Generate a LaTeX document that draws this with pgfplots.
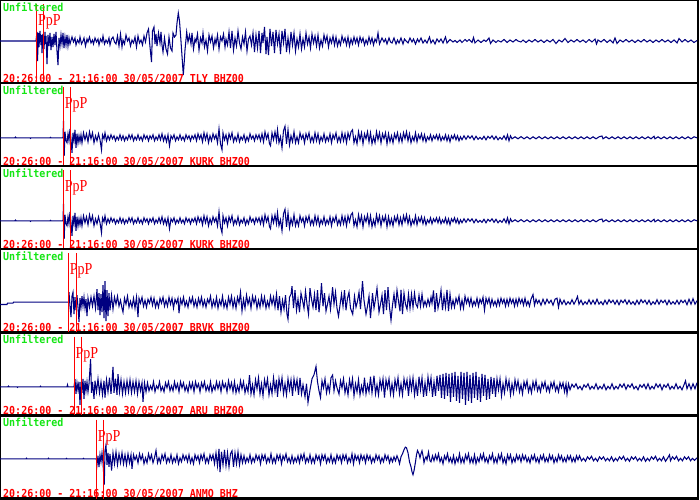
\documentclass[border=0pt]{standalone}
\usepackage{fontspec}
\usepackage{pgfplots}
\usepackage{pgfplotstable}
\pgfplotsset{compat=1.18}
\newfontfamily\monofam{DejaVu Sans Mono}
\newfontfamily\seriffam{Liberation Serif}
\newcommand\mono{\fontsize{10bp}{12bp}\selectfont\monofam\bfseries}
\newcommand\pfont{\fontsize{14bp}{16bp}\selectfont\seriffam}
\definecolor{tr}{RGB}{0,0,128}
\definecolor{ugreen}{RGB}{20,230,20}
\definecolor{pred}{RGB}{255,0,0}
\pgfplotsset{seis/.style={anchor=south west, scale only axis, width=698bp, height=83bp,
  xmin=0, xmax=698, ticks=none, axis line style={line width=2bp, black}, clip mode=individual}}

\pgfplotstableread[row sep=\\]{x y\\
0 0\\ 36 0\\ 37 9\\ 37.5 -20\\ 38.5 8\\ 39 -6\\ 40 10\\ 41 -4\\ 41.5 6\\ 42 -12\\ 43 7\\ 44 -8\\ 45 9\\ 45.5 -3\\ 46 5\\ 47 -23\\ 48 6\\ 49 -5\\ 50 8\\ 51 -9\\ 52 4\\ 53 -6\\ 54 7\\ 55 -4\\ 56 9\\ 57 -10\\ 58 -24\\ 59 3\\ 60 -5\\ 61 6\\ 62 -3\\ 63 8\\ 64 -7\\ 65 4\\ 66 -4\\ 67 6\\ 68 -5\\ 69 3\\ 70 -3\\
72 4\\ 73.5 -1\\ 75 3\\ 76 -4\\ 77.5 1\\ 79 -2\\ 80 4\\ 81.5 -3\\ 83 0\\ 84 3\\ 85.5 -5\\ 87 2\\ 88 -1\\ 89.5 4\\ 91 -2\\ 92.5 1\\ 93.5 -3\\ 95 3\\ 96.5 -1\\ 98 2\\ 99 -4\\ 100.5 2\\ 102 -1\\ 103 5\\ 104.5 -3\\ 106 1\\ 107.5 -2\\ 109 3\\ 110 -4\\ 111.5 2\\ 113 4\\ 114.5 -1\\ 116 -3\\ 117.5 5\\ 119 -5\\ 120.5 7\\ 122 -6\\ 123 1\\ 124.5 -3\\ 126 6\\ 127.5 0\\ 129 3\\ 130.5 -5\\ 132 1\\ 133.5 -2\\ 135 4\\ 136.5 -6\\ 138 5\\ 139.5 -2\\ 141 1\\ 142.5 -4\\ 144 5\\ 145.5 -1\\ 147 8\\
148.5 12\\ 150 -6\\ 151.5 -21\\ 152.5 10\\ 154 14\\ 155 -3\\ 156 7\\ 157 -5\\ 158.5 8\\ 160 -2\\ 161 9\\ 162 -4\\ 163 -11\\ 164.5 3\\ 166 -8\\ 167.5 -13\\ 169 4\\ 170.5 -7\\ 172 -10\\ 173 8\\ 174.5 4\\ 176 6\\ 177 18\\ 178.3 28\\ 179.5 20\\ 180.7 4\\ 182 -15\\ 183.3 -34\\ 184.3 -20\\ 185 -9\\ 186.7 9\\ 188 -1\\
189.5 6\\ 191 -3\\ 192 8\\ 193.5 -8\\ 195 2\\ 196 -1\\ 197.5 7\\ 199 -9\\ 200.5 3\\ 202 -2\\ 203 8\\ 204.5 -6\\ 206 1\\ 207.5 -10\\ 209 6\\ 210.5 -1\\ 212 5\\ 213.5 -7\\ 215 2\\ 216 -3\\ 217.5 6\\ 219 -8\\ 220.5 4\\ 222 0\\ 223.5 7\\ 225 -6\\ 226 2\\ 227.5 -4\\ 229 9\\ 230.5 -7\\ 232 10\\ 233.5 -9\\ 235 3\\ 236.5 -5\\ 238 10\\ 239.5 -2\\ 241 -8\\ 242.5 4\\ 244 -3\\ 245.5 9\\ 247 -10\\ 248.5 2\\ 250 5\\ 251.5 -4\\ 253 8\\ 254.5 -11\\ 256 6\\ 257.5 -7\\ 259 10\\ 260.5 -12\\ 262 8\\ 263 -2\\ 264.5 14\\ 266 -13\\ 267 4\\ 268.5 -14\\ 270 12\\ 271.5 -5\\ 273 9\\ 274.5 -12\\ 276 11\\ 277.5 -3\\ 279 7\\ 280.5 -13\\ 282 10\\ 283.5 -2\\ 285 12\\ 286.5 -11\\ 288 3\\ 289.5 -9\\ 291 9\\ 292.5 -4\\ 294 8\\ 295.5 -10\\ 297 2\\ 298.5 -6\\
300 7\\ 301.5 -8\\ 303 2\\ 304.5 -6\\ 306 8\\ 307.5 -3\\ 309 4\\ 310.5 -7\\ 312 7\\ 313.5 -2\\ 315 5\\ 316.5 -5\\ 318 6\\ 319.5 -7\\ 321 1\\ 322.5 -5\\ 324 6\\ 325.5 -1\\ 327 5\\ 328.5 -6\\ 330 3\\ 331.5 -2\\ 333 5\\ 334.5 -4\\ 336 4\\ 337.5 -5\\ 339 1\\ 340.5 -4\\ 342 5\\ 343.5 -1\\ 345 3\\ 346.5 -4\\ 348 4\\ 349.5 -5\\ 351 2\\ 352.5 -3\\ 354 4\\ 355.5 -2\\ 357 3\\ 358.5 -4\\ 360 4\\ 361.5 -1\\ 363 3\\ 364.5 -4\\ 366 1\\ 367.5 -3\\ 369 4\\ 370.5 -2\\ 372 3\\ 373.5 -4\\ 375 2\\ 376.5 -1\\ 378 8\\ 379.5 -3\\
382 3\\ 384 -1\\ 385.5 2\\ 387 -3\\ 389 3\\ 390.5 -1\\ 392 -2\\ 394 3\\ 396 -3\\ 397.5 1\\ 399 -2\\ 401 3\\ 403 -3\\ 404.5 2\\ 406 0\\ 408 -2\\ 410 3\\ 412 -1\\ 413.5 2\\ 415.5 -3\\ 417.5 2\\ 419 -1\\ 421 3\\ 423 -2\\ 425 1\\ 427 -2\\ 429.5 4\\ 431 -2\\ 433 1\\ 435 -3\\ 437 2\\ 439 -1\\ 441 2\\ 443 -2\\ 445.5 4\\ 447 -2\\
450 1.5\\ 453 -1\\ 455 0.5\\ 457 -1.5\\ 460 1\\ 462 -1.5\\ 465 1.5\\ 467 -0.5\\ 469 1.5\\ 472 -1.5\\ 473.5 3.5\\ 475 -2\\ 478 1\\ 481 -1.5\\ 484 1\\ 486 -0.5\\ 489 3\\ 490.5 -2.5\\ 493 1\\ 496 -1.5\\ 498 0.5\\ 501 -1\\ 504 1.5\\ 507 -1.5\\ 510 1\\ 513 -1\\ 516 1.5\\ 518 0\\ 521 -1\\ 523 1\\ 526 -1.5\\ 529 1\\ 532 -1\\ 535 1.5\\ 538 -1\\ 541 1\\ 544 -1.5\\ 547 1\\ 550 -1\\ 553 1.5\\ 556 -2.5\\ 559 1\\ 562 -1\\ 565 2.5\\ 568 -1.5\\ 571 1\\ 574 -1\\ 577 1.5\\ 580 -1\\ 583 1\\ 586 -1.5\\ 589 1.5\\ 592 -1\\ 595 2\\ 596.5 -3\\ 598 1\\ 601 -1\\ 604 1.5\\ 607 -1.5\\ 610 1\\ 613 -2\\ 615 3\\ 617 -2.5\\ 620 1\\ 623 -1\\ 626 1.5\\ 629 -1\\ 632 1\\ 635 -1.5\\ 638 1\\ 641 -1\\ 644 1.5\\ 647 -1\\ 650 1\\ 653 -1.5\\ 656 1\\ 659 -1\\ 662 1.5\\ 665 -1\\ 668 1\\ 671 -1.5\\ 674 1\\ 677 -2\\ 679 2.5\\ 682 -1\\ 685 1.5\\ 688 -1\\ 691 1\\ 694 -1.5\\ 697 0.5\\
}\tly

\pgfplotstableread[row sep=\\]{x y\\
0 0\\ 15 0\\ 15.5 0.7\\ 16 0\\ 30 0\\ 30.5 -0.6\\ 31 0\\ 50 0\\ 50.5 0.5\\ 51 0\\ 63 0\\
63.5 17\\ 64.2 -18\\ 65 6\\ 66 -3\\ 67 -5\\ 68 4\\ 69 -3\\ 70 9\\ 71 -2\\ 72 -15\\ 73 5\\ 74 -3\\ 75 8\\ 76 -10\\ 77 4\\ 78 -5\\ 79 2\\ 80 -4\\ 81 3\\ 82 -5\\ 83.5 5\\ 85 -2\\ 86.5 4\\ 88 -4\\ 89.5 6\\ 91 -1\\ 92.5 5\\ 94 -5\\ 95.5 2\\ 97 -3\\ 98.5 4\\ 100 -2\\ 101.5 -12\\ 102.5 3\\ 104 -1\\ 105 5\\ 106.5 -3\\ 108 2\\ 109.5 -2\\ 111 3\\ 112.5 -1\\ 114 2\\ 115.5 -3\\ 117 1\\ 118.5 -2\\ 120 3\\ 121.5 -2\\ 123 2\\ 124.5 -3\\ 126 1\\ 127.5 -2\\ 129 3\\ 130.5 -1\\ 132 3\\ 133.5 -3\\ 135 1\\ 136.5 -2\\ 138 3\\ 139.5 -2\\ 141 1\\ 142.5 -3\\ 144 3\\ 145.5 -1\\ 147 2\\ 148.5 -3\\ 150 2\\ 151.5 -1\\ 153 3\\ 154.5 -3\\ 156 1\\ 157.5 -2\\ 159 3\\ 160.5 -2\\ 162 4\\ 163.5 -3\\ 165 2\\ 166.5 -4\\ 168 3\\ 169.5 -8\\ 171 2\\ 172.5 -1\\ 174 3\\ 175.5 -3\\ 177 1\\ 178.5 -2\\ 180 3\\ 181.5 -2\\ 183 1\\ 184.5 -3\\ 186 3\\ 187.5 -1\\ 189 2\\ 190.5 -3\\ 192 2\\ 193.5 -1\\ 195 3\\ 196.5 -3\\ 198 4\\ 199.5 -1\\ 201 3\\ 202.5 -4\\ 204 5\\ 205.5 -2\\ 207 4\\ 208.5 -5\\ 210 2\\ 211.5 -3\\ 213 4\\ 214.5 -1\\ 216 3\\ 217.5 -5\\ 219 9\\ 220.5 -6\\ 222 -12\\ 223 5\\ 224.5 -2\\ 226 3\\ 227.5 -5\\ 229 4\\ 230.5 -1\\ 232 5\\ 233.5 -4\\ 235 1\\ 236.5 -3\\ 238 4\\ 239.5 -4\\ 241 1\\ 242.5 -2\\ 244 3\\ 245.5 -4\\ 247 1\\ 248.5 -3\\ 250 4\\ 251.5 -1\\ 253 2\\ 254.5 -3\\ 256 3\\ 257.5 -1\\ 259 3\\ 260.5 -3\\ 262 4\\ 263.5 -4\\ 265 6\\ 266.5 -1\\ 268 4\\ 269.5 -6\\ 270.5 -8\\ 272 5\\ 273.5 -2\\ 275 6\\ 276.5 -3\\ 277.5 8\\ 279 -5\\ 280.5 1\\ 282 -10\\ 283.5 7\\ 285 11.5\\ 286.5 -6\\ 288 8\\ 289.5 -7\\ 291 2\\ 292.5 -4\\ 294 6\\ 295.5 -5\\ 297 1\\ 298.5 -5\\ 300 5\\ 301.5 -1\\ 303 3\\ 304.5 -5\\ 306 4\\ 307.5 -1\\ 309 5\\ 310.5 -4\\ 312 1\\ 313.5 -4\\ 315 5\\ 316.5 -3\\ 318 4\\ 319.5 -5\\ 321 1\\ 322.5 -3\\ 324 4\\ 325.5 -4\\ 327 1\\ 328.5 -3\\ 330 4\\ 331.5 -5\\ 333 3\\ 334.5 -1\\ 336 5\\ 337.5 -4\\ 339 1\\ 340.5 -4\\ 342 5\\ 343.5 -3\\ 345 4\\ 346.5 -5\\ 348 5\\ 349.5 -1\\ 351 6\\ 352.5 8\\ 354 -5\\ 355.5 1\\ 357 -6\\ 358.5 6\\ 360 -2\\ 361.5 5\\ 363 -6\\ 364.5 4\\ 366 -1\\ 367.5 6\\ 369 -4\\ 370.5 5\\ 372 -6\\ 373.5 1\\ 375 -5\\ 376.5 6\\ 378 -2\\ 379.5 5\\ 381 -5\\ 382.5 4\\ 384 -1\\ 385.5 5\\ 387 -6\\ 388.5 4\\ 390 -4\\ 391.5 2\\ 393 -5\\ 394.5 4\\ 396 -1\\ 397.5 5\\ 399 -4\\ 400.5 3\\ 402 -4\\ 403.5 5\\ 405 -1\\ 406.5 6\\ 408 -3\\ 409.5 4\\ 411 -5\\ 412.5 1\\ 414 -3\\ 415.5 5\\ 417 -4\\ 418.5 3\\ 420 -1\\ 421.5 4\\ 423 -3\\ 424.5 3\\ 426 -4\\ 427.5 1\\ 429 -2\\ 430.5 3\\ 432 -3\\ 433.5 2\\ 435 -1\\ 436.5 3\\ 438 -2\\ 439.5 3\\ 441 -3\\ 442.5 1\\ 444 -2\\ 445.5 3\\ 447 -3\\ 448.5 2\\ 450 -4\\ 451.5 2\\ 453 -1\\ 454.5 3\\ 456 -2\\ 457.5 2\\ 459 -3\\ 460.5 1\\ 462 -2\\ 464 2\\ 466 -1.5\\ 468 2\\ 470 -0.5\\ 472 2\\ 474 -2\\ 476 1.5\\ 478 -1.5\\ 480 0.5\\ 482 -1.5\\ 484 1.5\\ 486 -2\\ 488 1.5\\ 490 -0.5\\ 492 2\\ 494 -1.5\\ 496 1.5\\ 498 -2\\ 500 0.5\\ 502 -1.5\\ 504 2\\ 506 -2\\ 507.5 3\\ 509 -3\\ 510.5 2\\ 512 -1\\ 515 1\\ 518 -1\\ 521 1.2\\ 524 -1\\ 527 1\\ 530 -1.2\\ 533 1\\ 536 -1\\ 539 1.2\\ 542 -1\\ 545 1\\ 548 -1\\ 551 1\\ 554 -1\\ 557 1\\ 560 -1\\ 563 1\\ 566 -1\\ 569 1\\ 572 -1\\ 575 1\\ 578 -1\\ 581 1\\ 584 -1\\ 587 1\\ 590 -1\\ 593 1\\ 596 -1\\ 599 1\\ 602 1.8\\ 603 -1\\ 606 1\\ 609 -1\\ 612 1\\ 615 -1\\ 618 1\\ 621 -1\\ 624 1\\ 627 -1\\ 630 1\\ 633 -1\\ 636 1\\ 639 -1\\ 642 1\\ 645 -1\\ 648 1\\ 651 -1\\ 654 1.5\\ 655 -1\\ 658 1\\ 661 -1\\ 664 1\\ 667 -1\\ 670 1\\ 673 -1\\ 676 1\\ 679 -1\\ 682 1\\ 685 -1\\ 688 1\\ 691 -1\\ 694 1\\ 697 0\\
}\kurk

\pgfplotstableread[row sep=\\]{x y\\
0 -2.3\\ 7 -2.3\\ 7.5 -1\\ 13 -1\\ 13.5 0\\ 68.5 0\\ 69 10\\ 70 -4\\ 71 -15\\ 72 6\\ 73 10\\ 74 -12\\ 75 5\\ 76 -8\\ 77 7\\ 78 -5\\ 79 -20\\ 80 4\\ 81 -5\\ 82 6\\ 83 -4\\ 84 5\\ 85 -6\\ 86 3\\ 87 -14\\ 88 4\\ 89.5 -5\\ 91 5\\ 92.5 -4\\ 94 6\\ 95.5 -6\\ 97 13\\ 98 -8\\ 99 9\\ 100 -13\\ 101 8\\ 102 -10\\ 103 17\\ 104 -16\\ 105 21\\ 106 -19\\ 107 12\\ 108 -14\\ 109 9\\ 110 -8\\ 111.5 7\\ 113 -7\\
114.5 5\\ 116 -2\\ 117.5 6\\ 119 -4\\ 120.5 2\\ 122 -6\\ 123 -10\\ 124.5 4\\ 126 -2\\ 127.5 6\\ 129 -5\\ 130.5 1\\ 132 -5\\ 133.5 4\\ 135 -6\\ 136.5 5\\ 138 -15\\ 139 4\\ 140.5 -1\\ 142 5\\ 143.5 -4\\ 145 2\\ 146.5 -5\\ 148 3\\ 149.5 -1\\ 151 5\\ 152.5 -3\\ 154 4\\ 155.5 -5\\ 157 1\\ 158.5 -5\\ 160 4\\ 161.5 -1\\ 163 5\\ 164.5 -4\\ 166 2\\ 167.5 -4\\ 169 5\\ 170.5 -2\\ 172 4\\ 173.5 -6\\ 175 3\\ 176.5 -1\\ 178 4\\ 179 -11\\ 180.5 3\\ 182 -2\\ 183.5 5\\ 185 -4\\ 186.5 1\\ 188 -5\\ 189.5 4\\ 191 -1\\ 192.5 5\\ 194 -4\\ 195.5 2\\ 197 -5\\ 198.5 4\\ 200 -2\\ 201.5 5\\ 203 -4\\ 204.5 2\\ 206 -5\\ 207.5 3\\ 209 -1\\ 210.5 6\\ 212 -5\\ 213.5 2\\ 215 -4\\ 216.5 5\\ 218 -6\\ 219.5 2\\ 221 -3\\ 222.5 6\\ 224 -5\\ 225.5 1\\ 227 -6\\ 228.5 5\\ 230 -2\\ 231.5 6\\ 233 -5\\ 234.5 3\\ 236 -6\\ 237.5 5\\ 239 -1\\ 240.5 10\\ 242 -9\\ 243.5 3\\ 245 -6\\ 246.5 7\\ 248 -2\\ 249.5 4\\ 251 -6\\ 252.5 6\\ 254 -1\\ 255.5 5\\ 257 -6\\ 258.5 2\\ 260 -5\\ 261.5 6\\ 263 -3\\ 264.5 5\\ 266 -6\\ 267.5 1\\ 269 -5\\ 270.5 6\\ 272 -2\\ 273.5 5\\ 275 -5\\ 276.5 8\\ 278 -8\\ 279.5 6\\ 281 -10\\ 282.5 2\\ 284 -7\\ 285.5 7\\ 287 -12\\ 288 -17\\ 289.5 5\\ 291 8\\ 292 16\\ 293.5 -6\\ 295 12\\ 296.5 -8\\ 298 3\\ 299.5 -10\\
301 9\\ 302.5 2\\ 304 -6\\ 305.5 11\\ 307 -2\\ 308.5 -12\\ 310 14\\ 311.5 3\\ 313 -5\\ 314.5 8\\ 316 -8\\ 317.5 12\\ 319 -10\\ 320.5 5\\ 321.5 19\\ 323 -4\\ 324.5 9\\ 326 -9\\ 327.5 -2\\ 329 6\\ 330.5 -7\\ 332.6 15\\ 334 -2\\ 335.5 10\\ 337 -6\\ 338.5 -14\\ 340 -3\\ 341.5 8\\ 343 -4\\ 344.5 12\\ 346 -8\\ 347.5 4\\ 349 10\\ 350.5 -6\\ 352.7 -12\\ 354.5 6\\ 356 -5\\ 357.5 1\\ 359 10\\ 360.5 -7\\ 362.5 21\\ 364 2\\ 366 -12\\ 367.5 -4\\ 369 6\\ 370.5 -16\\ 372.5 9\\ 374 -6\\ 375.5 3\\ 377 14\\ 379 -10\\ 380.5 -2\\ 382 7\\ 383.5 -12\\ 385 12\\ 386.5 -8\\ 388 15\\ 389.5 -5\\ 391 -18\\ 392.5 -3\\ 394 8\\ 395.5 -6\\ 397 12\\ 398.5 1\\ 400 -9\\ 401 12.4\\ 402.5 -12\\ 404 9\\ 405.5 -2\\ 407 -7\\ 408.5 8\\ 410 -6\\ 411.5 8\\ 413 -5\\ 414.5 9\\ 416 -2\\ 417.5 -5\\ 419 7\\ 420.5 -4\\ 422 8\\ 423.5 -4\\ 425 1\\ 426.5 -4\\ 428 3\\ 429.5 -3\\ 431 5\\ 432 -1\\ 433.5 11.7\\ 435 -10\\ 436.5 9\\ 438 -6\\ 439.5 1\\ 441 12\\ 442.5 -8\\ 444 6\\ 445.5 -5\\ 447 12.4\\ 448.5 -9\\ 450 8\\
451.5 -5\\ 453 2\\ 454.5 -5\\ 456 4\\ 457.5 -1\\ 459 6\\ 460.5 -6\\ 462 2\\ 463.5 -6\\ 465 6\\ 466.5 -1\\ 468 4\\ 469.5 -3\\ 471 4\\ 472.5 -4\\ 474 1\\ 475.5 -3\\ 477 4\\ 478.5 -4\\ 480 3\\ 481.5 -1\\ 483 5\\ 484.5 -8\\ 486 4\\ 487.5 -1\\ 489 4\\ 490.5 -4\\ 492 3\\ 493.5 -3\\ 495 1\\ 496.5 -4\\ 498 3\\ 499.5 -3\\ 501 4\\ 502.5 -1\\ 504 3\\ 505.5 -4\\ 507 3\\ 508.5 -3\\ 510 4\\ 511.5 -1\\ 513 3\\ 514.5 -4\\ 516 3\\ 517.5 -3\\ 519 4\\ 520.5 -1\\ 522 3\\ 523.5 -3\\ 525 4\\ 526.5 -3\\ 528 1\\ 529.5 -4\\ 531 3\\ 533 7.7\\ 534.5 -3\\ 536 3\\ 537.5 -1\\ 539 2\\ 541 -3\\ 543 3\\ 545 -2\\ 547 3\\ 549 -1\\ 551 2\\ 553 -3\\ 555 3\\ 557 4\\ 558.5 -5\\ 560 3\\ 562 -2\\ 564 2\\ 566 -2.5\\ 568 0.5\\ 570 -2\\ 572 2.5\\ 574 -2\\ 576 2\\ 577.5 5.7\\ 579 -2\\ 581 2\\ 583 -2.5\\ 585 0.5\\ 587 -2\\ 589 2.5\\ 591 -2\\ 593 2\\ 595 -2\\ 597 3\\ 599 -2\\ 601 0.5\\ 603 -2.5\\ 605 2\\ 607 -2\\ 609 2.5\\ 611 -0.5\\ 613 2\\ 615 -2\\ 617 2\\ 619 -2.5\\ 621 2\\ 623 -0.5\\ 625 2.5\\ 627 -2\\ 629 2\\ 631 -2\\ 633 0.5\\ 635 -2.5\\ 637 2\\ 639 -2\\ 641 2.5\\ 643 -0.5\\ 645 2\\ 647 -2\\ 649 2\\ 651 -2.5\\ 653 0.5\\ 655 -2\\ 657 2.5\\ 659 -2\\ 661 2\\ 663 -0.5\\ 665 2\\ 667 -2.5\\ 669 2\\ 671 -2\\ 673 0.5\\ 675 -2\\ 677 2\\ 679 -2\\ 681 2\\ 683 -0.5\\ 685 2\\ 687 -2.5\\ 689 3\\ 691 -2\\ 693 3.5\\ 695 -2\\ 697 1.5\\
}\brvk

\pgfplotstableread[row sep=\\]{x y\\
0 0\\ 8 0\\ 8.5 0.7\\ 9 0\\ 17 0\\ 17.5 -0.5\\ 18 0\\ 40 0\\ 40.5 0.6\\ 41 0\\ 67 0\\ 67.5 2\\ 68 0\\ 74 0\\
75 7.6\\ 76 -7\\ 77 4\\ 78 -3\\ 79 5\\ 80 -18\\ 81 5\\ 82 -6\\ 83 8\\ 84 -12\\ 85 6\\ 86 -4\\ 87 5\\ 88 -5\\ 89 3\\ 90.6 27.6\\ 91.5 -6\\ 92.5 5\\ 94 -12\\ 95 6\\ 96.5 -5\\ 98 8\\ 99.5 -6\\ 101 5\\ 102.5 -8\\ 104 6\\ 105 -10.7\\ 106.5 7\\ 108 -5\\ 109.5 9\\ 111 -7\\ 112 5\\ 113 20\\ 114 -6\\ 115.5 8\\ 117 -8\\ 118 12.7\\ 119.5 -5\\ 121 7\\ 122.5 -7\\ 124 5\\ 125.5 -6\\ 127 6\\ 128.5 -5\\ 130 7\\ 131.5 -6\\ 133 5\\ 134.5 -5\\ 136 6\\ 137.5 -7\\ 139 5\\ 140.5 -4\\ 142 4\\ 143 -15\\ 144.5 4\\ 146 -5\\ 147.5 4\\
149 -4\\ 150.5 1\\ 152 -3\\ 153.5 5\\ 155 -5\\ 156.5 1\\ 158 -2\\ 159.5 5\\ 161 -4\\ 162.5 0\\ 164 -5\\ 165.5 4\\ 167 -1\\ 168.5 5\\ 170 -4\\ 171.5 1\\ 173 -4\\ 174.5 5\\ 176 -2\\ 177.5 3\\ 179 -5\\ 180.5 5\\ 182 -1\\ 183.5 4\\ 185 -4\\ 186.5 1\\ 188 -5\\ 189.5 4\\ 191 -2\\ 192.5 4\\ 194 -5\\ 195.5 5\\ 197 -1\\ 198.5 3\\ 200 -5\\ 201.5 4\\ 203 -1\\ 204.5 5\\ 206 -4\\ 207.5 1\\ 209 -4\\ 210.5 5\\ 212 -5\\ 213.5 1\\ 215 -3\\ 216.5 5\\ 218 -2\\ 219.5 4\\ 221 -5\\ 222.5 5\\ 224 -1\\ 225.5 3\\ 227 -5\\ 228.5 6\\ 230 -2\\ 231.5 4\\ 233 -5\\ 234.5 5\\ 236 -6\\ 237.5 1\\ 239 -5\\ 240.5 6\\ 242 -2\\ 243.5 5\\ 245 -6\\ 246.5 1\\ 248 -5\\ 249.5 11.7\\
251 -7\\ 252.5 2\\ 254 -8\\ 255.5 7\\ 257 -2\\ 258.5 9\\ 260 -7\\ 261.5 3\\ 263 -9\\ 264.5 7\\ 266 -1\\ 267.5 8\\ 269 -8\\ 270.5 2\\ 272 -7\\ 273.5 9\\ 275 -4\\ 276.5 7\\ 277.5 -10\\ 279 8\\ 280.5 -2\\ 282 9\\ 283.5 -7\\ 285 3\\ 286.5 -8\\ 288 8\\ 289.5 -3\\ 291 7\\ 292.5 -9\\ 294 8\\ 295.5 -2\\ 297 7\\ 298.5 -8\\ 300 9\\ 301.5 -7\\ 303 2\\ 305 -10\\ 306.5 3\\ 308 -15.7\\ 310 -3\\ 312 8\\ 314 12\\ 316 20.3\\ 317.5 5\\ 319 -4\\ 320.5 -10.7\\ 322 6\\ 323.5 -1\\ 325 8\\ 326.5 -6\\ 328 2\\ 329.5 -5\\ 331 9\\ 332.6 11.7\\ 334 -4\\ 335.5 6\\ 337 -1\\ 339 -7.3\\ 340.5 6\\ 342 -1\\ 343.5 8\\ 345 -6\\ 346.5 2\\ 348 -8\\ 349.5 7\\ 351 -2\\ 352.5 8\\ 354 -9\\ 355.5 3\\ 357 -5\\ 358.5 7\\ 360 -8\\ 361.5 1\\ 363 -6\\ 364.5 9\\ 366 -7\\ 367.5 2\\ 369 -5\\ 370.5 10\\ 372 -6\\ 374 11\\ 375.5 -7\\ 377 2\\ 378.5 -8\\ 380 7\\ 381.5 -2\\ 383 8\\ 384.5 -10.7\\ 386 7\\ 387.5 -1\\ 389 8\\ 390.5 -7\\ 392 3\\ 393.5 -8\\ 395 7\\ 396.5 -2\\ 398 9\\ 399.5 -7\\ 401 3\\ 402.5 -8\\ 404 8\\ 405.5 -1\\ 407 7\\ 408.5 -9\\ 410 8\\ 411.5 -3\\ 413 9\\ 414.5 -8\\ 416 4\\ 417.5 -9\\ 419 10\\ 420.5 -3\\ 422 9\\ 423.5 -10\\ 425 4\\ 426.5 -9\\ 428 10\\ 429.5 -2\\ 431 9\\ 432.5 -10\\ 434 5\\ 435.5 -9\\ 437 11\\ 438.5 -4\\ 440 12\\ 441.5 -11\\
443 13\\ 444.5 -12\\ 446 14\\ 447.5 -9\\ 449 13\\ 450.5 -15\\ 452 14\\ 453.5 -10\\ 455 15\\ 456.5 -14\\ 458 11\\ 459.5 -16\\ 461 15\\ 462.5 -12\\ 464 14\\ 465.5 -18\\ 467 15\\ 468.5 -14\\ 470 12\\ 471.5 -16\\ 473 14\\ 474.5 -11\\ 476 15\\ 477.5 -13\\ 479 10\\ 480.5 -15\\ 482 13\\ 483.5 -9\\ 485 12\\ 486.5 -13\\ 488 8\\ 489.5 -12\\ 491 10\\ 492.5 -7\\ 494 9\\ 495.5 -10\\
497 8\\ 498.5 -3\\ 500 8\\ 501.5 -9\\ 503 3\\ 504.5 -6\\ 506 8\\ 507.5 -2\\ 509 6\\ 510.5 -8\\ 512 3\\ 513.5 -6\\ 515 7\\ 516.5 -2\\ 518 6\\ 519.5 -5\\ 521 2\\ 522.5 -7\\ 524 5\\ 525.5 -1\\ 527 6\\ 528.5 -5\\ 530 1\\ 531.5 -6\\ 533 5\\ 534.5 -2\\ 536 6\\ 537.5 -4\\ 539 1\\ 540.5 -5\\ 542 4\\ 543.5 -1\\ 545 5\\ 546.5 -4\\ 548 1\\ 549.5 -5\\ 551 4\\ 552.5 -1\\ 554 5\\ 555.5 -4\\ 557 1\\ 558.5 -5\\ 560 4\\ 561.5 -1\\ 563 4\\ 564.5 -5\\ 566 3\\ 567 -7.3\\ 568.5 3\\ 570 -3\\
572 2.5\\ 574 -0.5\\ 576 3\\ 578 -2\\ 580 0.5\\ 582 -3\\ 584 2\\ 586 -0.5\\ 588 3\\ 590 -2.5\\ 592 0.5\\ 594 -2\\ 596 3\\ 598 -2.5\\ 600 0.5\\ 602 -2\\ 604 2.5\\ 606 -3\\ 608 0.5\\ 610 -2\\ 612 3\\ 614 -2.5\\ 616 0.5\\ 618 -2\\ 620 2.5\\ 622 -0.5\\ 624 3\\ 626 -2.5\\ 628 2\\ 630 -0.5\\ 632 3\\ 634 -2\\ 636 0.5\\ 638 -3\\ 640 2\\ 642 -0.5\\ 644 2.5\\ 646 -2\\ 648 3\\ 650 -2.5\\ 652 0.5\\ 654 -2\\ 656 3\\ 658 -0.5\\ 660 2.5\\ 662 -3\\ 664 2\\ 666 -0.5\\ 668 3\\ 670 -2.5\\ 672 0.5\\ 674 -2\\ 676 3\\ 678 -2\\ 680 0.5\\ 682 -3\\ 684 2\\ 685.5 6\\ 687 -2\\ 689 3\\ 691 -2.5\\ 693 3\\ 695 -2\\ 697 4\\
}\aru

\pgfplotstableread[row sep=\\]{x y\\
0 0\\ 26 0\\ 26.5 0.6\\ 27 0\\ 48 0\\ 48.5 0.6\\ 49 0\\ 66 0\\ 66.5 0.5\\ 67 0\\ 83 0\\ 83.5 0.5\\ 84 0\\ 96.4 0\\
97 -6\\ 98 3\\ 99 -8.4\\ 100 4\\ 101 -3\\ 102 6\\ 103 -4\\ 104.3 -25.7\\ 105 8\\ 106 14\\ 107 -6\\ 108 6\\ 109 -8\\ 110 5\\ 111.6 -11.7\\ 113 6\\ 114.5 -5\\ 116 7\\ 117.5 -6\\ 119 5\\ 120.5 -4\\ 122 6\\ 123.5 -5\\ 125 4\\ 126.5 -6\\ 128 5\\ 129.5 -4\\ 131 4\\ 132 -10\\ 133.5 4\\ 135 -1\\ 136.5 3\\ 138 -4\\ 139.5 5\\ 141 -1\\ 142.5 4\\ 144 -5\\ 145.5 1\\ 147 -4\\ 148.5 5\\ 150 -1\\ 151.5 4\\ 153 -4\\ 154.5 1\\ 156 8.3\\ 157.5 -4\\ 159 1\\ 160.5 -4\\ 162 4\\ 163.5 -1\\ 165 5\\ 166.5 -4\\ 168 1\\ 169.5 -3\\ 171 4\\ 172.5 -4\\ 174 1\\ 175.5 -3\\ 177 4\\ 178.5 -5\\ 180 1\\ 181.5 -3\\ 183 4\\ 184.5 -1\\ 186 3\\ 187.5 -3\\ 189 4\\ 190.5 -4\\ 192 1\\ 193.5 -5\\ 195 4\\ 196.5 -1\\ 198 3\\ 199.5 -4\\ 201 4\\ 202.5 -1\\ 204 5\\ 205.5 -4\\ 207 1\\ 208.5 -4\\ 210 4\\ 211.5 -1\\ 213 4\\ 214.5 -5\\ 216 6\\ 217.5 -7\\ 219 10\\ 220 -13.3\\ 221.5 7\\ 223 -6\\ 224.5 9\\ 226 -7\\ 227.5 6\\ 229 -8\\ 230.5 5\\ 232 8\\ 233.5 -8\\ 235 6\\ 236.5 -5\\ 238 7\\ 239.5 -6\\ 241 4\\ 242.5 -4\\ 244 3\\
245.5 -4\\ 247 1\\ 248.5 -3\\ 250 4\\ 251.5 -4\\ 253 1\\ 254.5 -3\\ 256 4\\ 257.5 -1\\ 259 3\\ 260.5 -5\\ 262 4\\ 263.5 -1\\ 265 4\\ 266.5 -4\\ 268 1\\ 269.5 -3\\ 271 5\\ 272.5 -4\\ 274 1\\ 275.5 -4\\ 277 4\\ 278.5 -1\\ 280 4\\ 281.5 -5\\ 283 3\\ 284.5 -1\\ 286 5\\ 287.5 -3\\ 289 1\\ 290.5 -4\\ 292 3\\ 293.5 -4\\ 295 1\\ 296.5 -3\\ 298 3\\ 299.5 -4\\ 301 4\\ 302.5 -1\\ 304 5\\ 305.5 -4\\ 307 1\\ 308.5 -3\\ 310 4\\ 311.5 -4\\ 313 1\\ 314.5 -4\\ 316 4\\ 317.5 -1\\ 319 3\\ 320.5 -5\\ 322 4\\ 323.5 -1\\ 325 4\\ 326.5 -4\\ 328 1\\ 329.5 -3\\ 331 4\\ 332.5 -4\\ 334 1\\ 335.5 -4\\ 337 4\\ 338.5 -1\\ 340 3\\ 341.5 -4\\ 343 4\\ 344.5 -1\\ 346 4\\ 347.5 -4\\ 349 1\\ 350.5 -3\\ 352 5\\ 353.5 -5\\ 355 4\\ 356.5 -1\\ 358 3\\ 359.5 -4\\ 361 4\\ 362.5 -1\\ 364 3\\ 365.5 -4\\ 367 4\\ 368.5 -1\\ 370 3\\ 371.5 -4\\ 373 1\\ 374.5 -3\\ 376 4\\ 377.5 -1\\ 379 3\\ 380.5 -4\\ 382 1\\ 383.5 -3\\ 385 4\\ 386.5 -1\\ 388 3\\ 389.5 -4\\ 391 1\\ 392.5 -3\\
394 2\\ 395.5 -2\\ 397 3\\ 398.5 -1\\ 399.5 -5\\ 401 2\\ 402.5 5\\ 404 9\\ 405.3 11.7\\ 406.5 11\\ 408 6\\ 409.5 -3\\ 411 -8\\ 412 -13\\ 413 -16\\ 414 -12\\ 415.5 -3\\ 416.5 4\\ 417.5 8.3\\ 419 5\\ 420 1\\ 421 5\\ 422 8\\ 423 3\\ 424 -4\\ 425 0\\ 426 2\\ 427 -1\\ 428.5 6.7\\ 430 -2\\ 431 -3\\ 432.5 3\\ 434 -2\\
435.5 4\\ 437 -1\\ 438.5 5\\ 440 -3\\ 441.5 1\\ 443 -5\\ 444.5 3\\ 446 -1\\ 447.5 5\\ 449 -3\\ 450.5 1\\ 452 -4\\ 453.5 3\\ 455 -5\\ 456.5 1\\ 458 -3\\ 459.5 5\\ 461 -4\\ 462.5 1\\ 464 -4\\ 465.5 4\\ 467 -1\\ 468.5 5\\ 470 -4\\ 471.5 1\\ 473 -4\\ 474.5 4\\ 476 -5\\ 477.5 1\\ 479 -3\\ 480.5 4\\ 482 -1\\ 483.5 5\\ 485 -3\\ 486.5 1\\ 488 -4\\ 489.5 3\\ 491 -1\\ 492.5 5\\ 494 -4\\ 495.5 1\\ 497 -4\\ 498.5 4\\ 500 -1\\ 501.5 5\\ 503 -4\\ 504.5 1\\ 506 -5\\ 507.5 4\\ 509 -1\\ 510.5 4\\ 512 -4\\ 513.5 1\\ 515 -3\\ 516.5 4\\ 518 -1\\ 519.5 3\\ 521 -3\\ 522.5 4\\ 524 -1\\ 525.5 3\\ 527 -3\\ 528.5 1\\ 530 -4\\ 531.5 3\\ 533 -1\\ 534.5 4\\ 536 -3\\ 537.5 1\\ 539 -4\\ 540.5 3\\ 542 -1\\ 543.5 4\\ 545 -3\\ 546.5 1\\ 548 -3\\ 549.5 4\\ 551 -1\\ 552.5 3\\ 554 -4\\ 555.5 1\\ 557 -3\\ 558.5 4\\ 560 -1\\ 561.5 3\\ 563 -3\\ 564.5 1\\ 566 -3\\ 567.5 3\\ 569 -1\\ 570.5 3\\ 572 -3\\ 573.5 1\\ 575 -3\\ 576.5 3\\ 578 -1\\ 579.5 3\\
581.5 -2\\ 583.5 0.5\\ 585.5 -2.5\\ 587.5 2\\ 589.5 -0.5\\ 591.5 2.5\\ 593.5 -2\\ 595.5 0.5\\ 597.5 -2.5\\ 599.5 2\\ 601.5 -0.5\\ 603.5 2\\ 605.5 -2\\ 607.5 0.5\\ 609.5 -2\\ 611.5 2\\ 613.5 -2.5\\ 615.5 0.5\\ 617.5 -2\\ 619.5 2\\ 621.5 -0.5\\ 623.5 2.5\\ 625.5 -2\\ 627.5 0.5\\ 629.5 -2.5\\ 631.5 2\\ 633.5 -0.5\\ 635.5 2\\ 637.5 -2\\ 639.5 0.5\\ 641.5 -2\\ 643.5 2\\ 645.5 -2.5\\ 647.5 0.5\\ 649.5 -2\\ 651.5 2\\ 653.5 -0.5\\ 655.5 2.5\\ 657.5 -2\\ 659.5 0.5\\ 661.5 -2\\ 663.5 2\\ 665.5 -2.5\\ 667.5 0.5\\ 669.5 4\\ 670.5 -2\\ 672.5 2\\ 674.5 -0.5\\ 676.5 2.5\\ 678.5 -2\\ 680.5 0.5\\ 682.5 -2\\ 684.5 2\\ 686.5 -0.5\\ 688.5 2\\ 690.5 -2\\ 692.5 0.5\\ 694.5 -1.5\\ 697 1\\
}\anmo

% #1 bottom (bp), #2 ymin, #3 ymax, #4 table, #5 P line, #6 pP line, #7 station text
\newcommand{\panel}[7]{%
\begin{axis}[seis, at={(0bp,#1bp)}, ymin=#2, ymax=#3]
\addplot[tr, line width=1.05bp] table[x=x,y=y]{#4};
\pgfmathsetmacro{\ltop}{#3-4}
\pgfmathsetmacro{\ubase}{#3-11}
\pgfmathsetmacro{\pbase}{#3-25.5}
\pgfmathsetmacro{\bbase}{#3-81.6}
\pgfmathsetmacro{\plab}{#5+1.2}
\addplot[pred, line width=1.2bp] coordinates {(#5,\ltop) (#5,#2)};
\addplot[pred, line width=1.2bp] coordinates {(#6,\ltop) (#6,#2)};
\node[anchor=base west, inner sep=0, text=ugreen, font=\mono] at (axis cs:3,\ubase) {\scalebox{1}[1.1]{Unfiltered}};
\node[anchor=base west, inner sep=0, text=pred, font=\pfont] at (axis cs:\plab,\pbase) {\scalebox{1}[1.2]{PpP}};
\node[anchor=base west, inner sep=0, text=pred, font=\mono] at (axis cs:3,\bbase) {\scalebox{1}[1.1]{20:26:00 - 21:16:00 30/05/2007 #7}};
\end{axis}}

\begin{document}
\begin{tikzpicture}
\useasboundingbox[fill=white] (0,0) rectangle (700bp,500bp);
\panel{416.5}{-42.5}{40.5}{\tly}{36.6}{43.3}{TLY BHZ00}
\panel{333.5}{-28.7}{54.3}{\kurk}{63.4}{70.5}{KURK BHZ00}
\panel{250.5}{-28.7}{54.3}{\kurk}{63.4}{70.5}{KURK BHZ00}
\panel{167.5}{-30.3}{52.7}{\brvk}{68.5}{76.3}{BRVK BHZ00}
\panel{84.5}{-28.7}{54.3}{\aru}{74.1}{81.2}{ARU BHZ00}
\panel{1.5}{-39.7}{43.3}{\anmo}{96.5}{103.6}{ANMO BHZ}
\end{tikzpicture}
\end{document}
